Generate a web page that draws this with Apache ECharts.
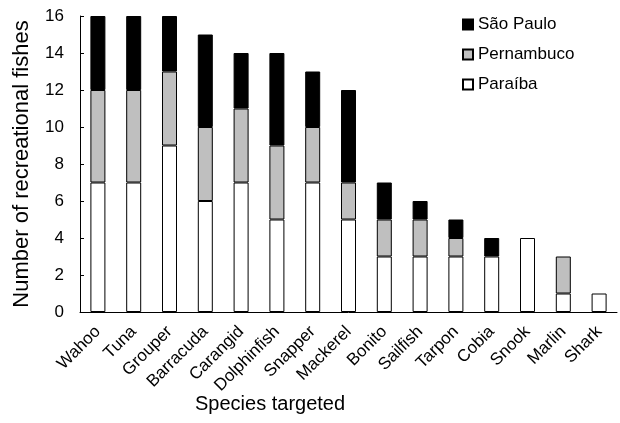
<!DOCTYPE html>
<html>
<head>
<meta charset="utf-8">
<script src="https://cdn.jsdelivr.net/npm/echarts@6/dist/echarts.min.js"></script>
<style>html,body{margin:0;padding:0;background:#fff}#c{width:620px;height:423px}</style>
</head>
<body>
<div id="c"></div>
<script>
const categories = ['Wahoo','Tuna','Grouper','Barracuda','Carangid','Dolphinfish','Snapper','Mackerel','Bonito','Sailfish','Tarpon','Cobia','Snook','Marlin','Shark'];
const paraiba    = [7,7,9,6,7,5,7,5,3,3,3,3,4,1,1];
const pernambuco = [5,5,4,4,4,4,3,2,2,2,1,0,0,2,0];
const saoPaulo   = [4,4,3,5,3,5,3,5,2,1,1,1,0,0,0];
const yTicks = [0,2,4,6,8,10,12,14,16];

const font = 'Liberation Sans, Arial, sans-serif';
const chart = echarts.init(document.getElementById('c'));
function s(name, data, color) {
  return { name, type: 'bar', stack: 'a', data: data.map(v => v === 0 ? null : v), barWidth: 15,
    itemStyle: { color, borderColor: '#000', borderWidth: 1 } };
}
chart.setOption({
  animation: false,
  backgroundColor: '#fff',
  grid: { left: 80, right: 3, top: 16, bottom: 111 },
  legend: {
    data: ['São Paulo','Pernambuco','Paraíba'],
    orient: 'vertical', left: 457, top: 11, itemGap: 13,
    itemWidth: 10, itemHeight: 10, icon: 'rect',
    textStyle: { fontFamily: font, fontSize: 17, color: '#000' }
  },
  graphic: [{ type: 'text', left: 195, top: 394,
    style: { text: 'Species targeted', font: '20px ' + font, fill: '#000' } }],
  xAxis: {
    type: 'category', data: categories,
    axisLine: { lineStyle: { color: '#000', width: 1 } },
    axisTick: { inside: true, length: 5, lineStyle: { color: '#000' } },
    axisLabel: { rotate: 45, interval: 0, margin: 17, fontFamily: font, fontSize: 17, color: '#000' }
  },
  yAxis: {
    type: 'value', min: yTicks[0], max: yTicks[yTicks.length-1], interval: 2,
    name: 'Number of recreational fishes', nameLocation: 'middle', nameGap: 47,
    nameTextStyle: { fontFamily: font, fontSize: 22, color: '#000' },
    axisLine: { show: true, lineStyle: { color: '#000', width: 1 } },
    axisTick: { show: true, inside: true, length: 4, lineStyle: { color: '#000' } },
    axisLabel: { margin: 16, fontFamily: font, fontSize: 17, color: '#000' },
    splitLine: { show: false }
  },
  series: [ s('Paraíba', paraiba, '#ffffff'), s('Pernambuco', pernambuco, '#bfbfbf'), s('São Paulo', saoPaulo, '#000000') ]
});
</script>
</body>
</html>
